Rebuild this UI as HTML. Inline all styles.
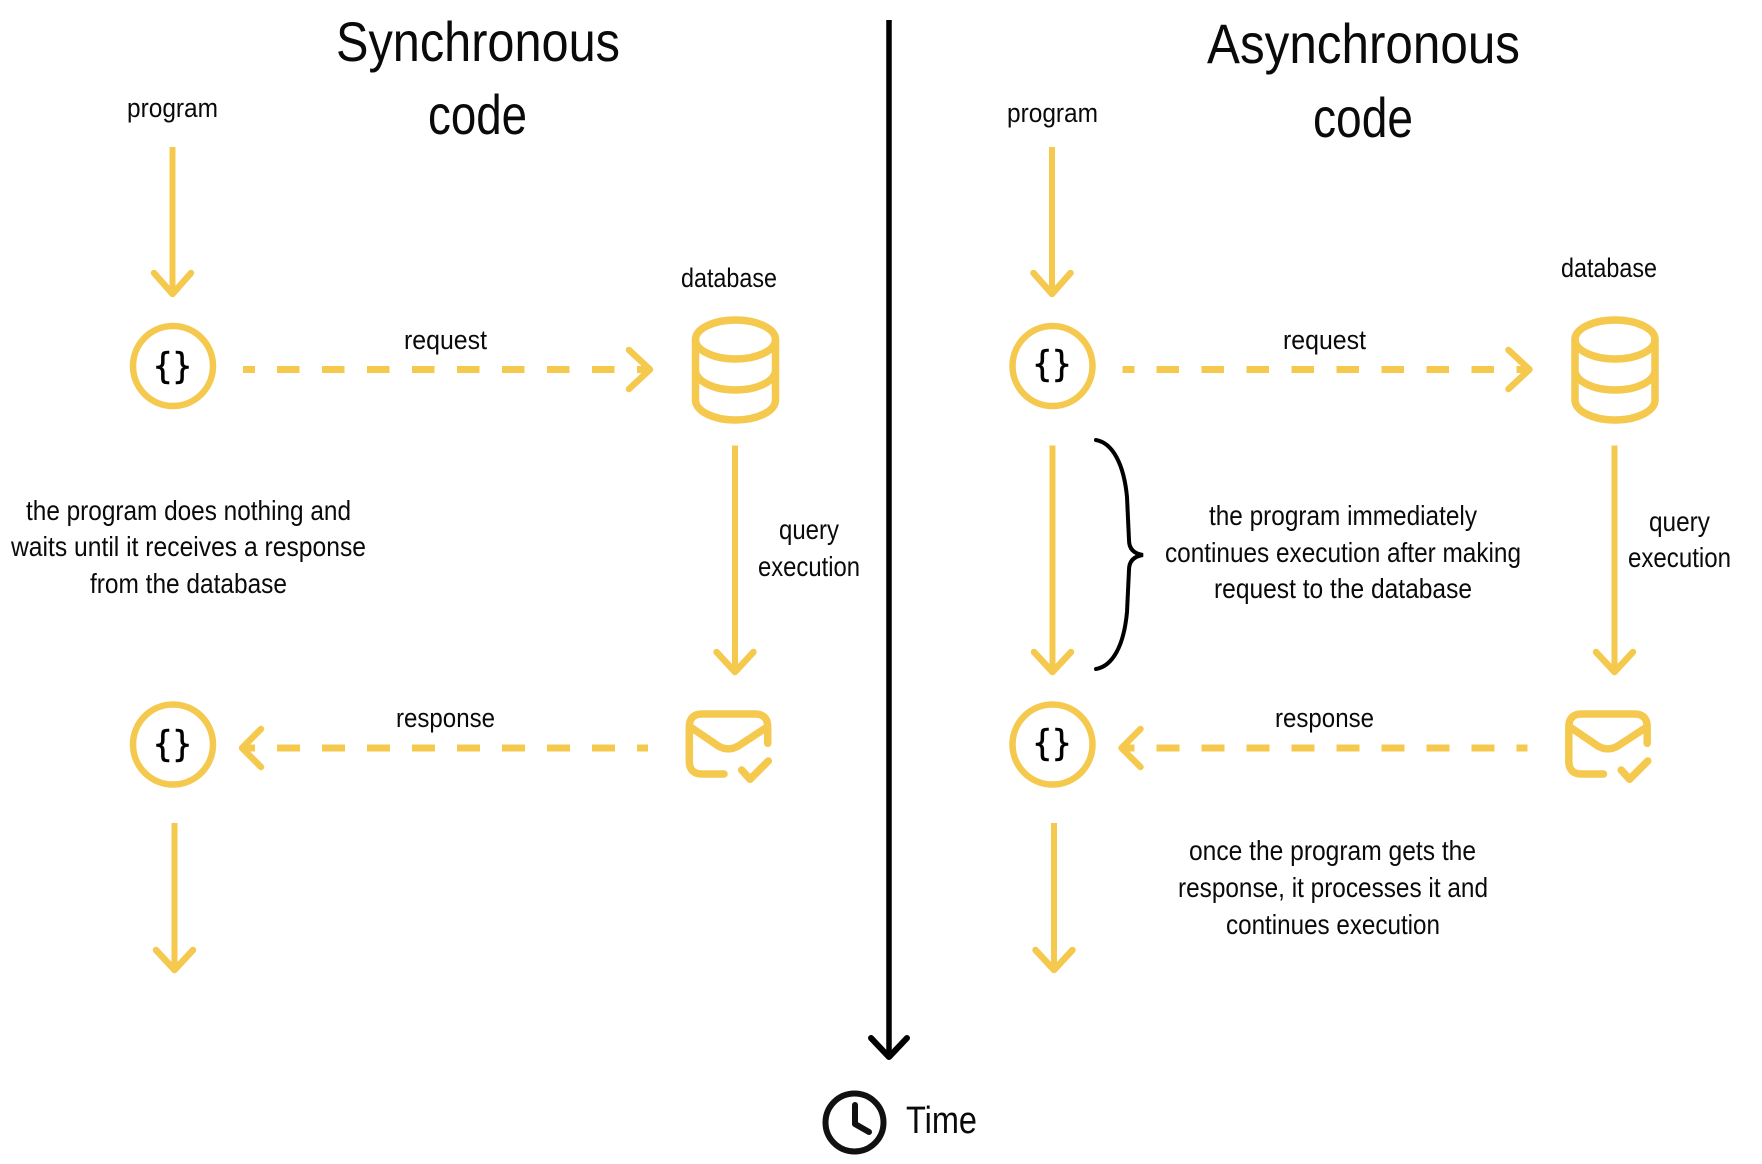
<!DOCTYPE html>
<html>
<head>
<meta charset="utf-8">
<style>
html,body{margin:0;padding:0;background:#fff;width:1762px;height:1164px;overflow:hidden}
svg{display:block}
text{font-family:"Liberation Sans",sans-serif;fill:#0a0a0a}
.t{font-size:56px}
.b{font-size:28px}
.l{font-size:27px}
.br{font-family:"DejaVu Sans Mono","Liberation Mono",monospace;font-size:36px;font-weight:400;fill:#000;stroke:#000;stroke-width:.6}
.y{fill:none;stroke:#f4c94e;stroke-width:6.5;stroke-linecap:round;stroke-linejoin:round}
.s{fill:none;stroke:#f4c94e;stroke-width:6}
.c{fill:none;stroke:#f4c94e;stroke-width:6.5}
.d{fill:none;stroke:#f4c94e;stroke-width:7;stroke-dasharray:22.5 22.5}
.i{fill:none;stroke:#f4c94e;stroke-width:7.5;stroke-linecap:round;stroke-linejoin:round}
</style>
</head>
<body>
<svg width="1762" height="1164" viewBox="0 0 1762 1164" xmlns="http://www.w3.org/2000/svg">
<rect width="1762" height="1164" fill="#fff"/>

<!-- center time arrow -->
<path d="M889 20V1056" fill="none" stroke="#000" stroke-width="5.5"/>
<path d="M871 1038L889 1057L907 1038" fill="none" stroke="#000" stroke-width="6" stroke-linecap="round" stroke-linejoin="round"/>
<circle cx="854.5" cy="1122.5" r="29" fill="none" stroke="#111" stroke-width="6"/>
<path d="M855 1105V1124L869 1132" fill="none" stroke="#111" stroke-width="6" stroke-linecap="round" stroke-linejoin="round"/>
<text class="t" x="906" y="1133" style="font-size:38px" textLength="71" lengthAdjust="spacingAndGlyphs">Time</text>

<!-- LEFT -->
<text class="t" x="336" y="61" textLength="284" lengthAdjust="spacingAndGlyphs">Synchronous</text>
<text class="t" x="428" y="134" textLength="99" lengthAdjust="spacingAndGlyphs">code</text>
<text class="l" x="127" y="117" textLength="91" lengthAdjust="spacingAndGlyphs">program</text>
<text class="l" x="681" y="287" textLength="96" lengthAdjust="spacingAndGlyphs">database</text>
<text class="l" x="404" y="349" textLength="83" lengthAdjust="spacingAndGlyphs">request</text>
<text class="l" x="396" y="727" textLength="99" lengthAdjust="spacingAndGlyphs">response</text>
<text class="b" x="779" y="539" textLength="60" lengthAdjust="spacingAndGlyphs">query</text>
<text class="b" x="758" y="576" textLength="102" lengthAdjust="spacingAndGlyphs">execution</text>
<text class="b" x="26" y="520" textLength="325" lengthAdjust="spacingAndGlyphs">the program does nothing and</text>
<text class="b" x="11" y="556" textLength="355" lengthAdjust="spacingAndGlyphs">waits until it receives a response</text>
<text class="b" x="90" y="593" textLength="197" lengthAdjust="spacingAndGlyphs">from the database</text>

<g>
<path class="s" d="M172.5 147V292"/>
<path class="y" d="M154 273L172.5 294L191 273"/>
<circle cx="173" cy="366" r="40" class="c"/>
<circle cx="173" cy="744.5" r="40" class="c"/>
<path class="d" d="M243 369.5H255M277 369.5H650"/>
<path class="y" d="M629 350L650 369.5L629 389"/>
<path class="d" d="M277 748H300M322 748H345M367 748H390M412 748H435M457 748H480M502 748H525M547 748H570M592 748H615M637 748H648M243 748H255" style="stroke-dasharray:none"/>
<path class="y" d="M261 729L242 748L261 767"/>
<path class="s" d="M735 445.5V670"/>
<path class="y" d="M716.5 652L735 672L753.5 652"/>
<path class="s" d="M174.5 823V968"/>
<path class="y" d="M156 950L174.5 970L193 950"/>
<ellipse cx="735.5" cy="339.5" rx="40" ry="19.5" class="i"/>
<path class="i" d="M695.5 370A40 20 0 0 0 775.5 370M695.5 339.5V400A40 20 0 0 0 775.5 400V339.5"/>
<path class="i" d="M724 774H702Q689.3 774 689.3 761V727Q689.3 714 702 714H755Q767.7 714 767.7 727V743.3M690 726.7L718.3 746Q728.3 751.7 738.3 746L767.7 726.7M741.7 770L750 779.3L768.3 761"/>
</g>
<text class="br" x="153" y="378" textLength="39" lengthAdjust="spacingAndGlyphs">{}</text>
<text class="br" x="153" y="756" textLength="39" lengthAdjust="spacingAndGlyphs">{}</text>

<!-- RIGHT -->
<text class="t" x="1207" y="63" textLength="313" lengthAdjust="spacingAndGlyphs">Asynchronous</text>
<text class="t" x="1313" y="137" textLength="100" lengthAdjust="spacingAndGlyphs">code</text>
<text class="l" x="1007" y="122" textLength="91" lengthAdjust="spacingAndGlyphs">program</text>
<text class="l" x="1561" y="277" textLength="96" lengthAdjust="spacingAndGlyphs">database</text>
<text class="l" x="1283" y="349" textLength="83" lengthAdjust="spacingAndGlyphs">request</text>
<text class="l" x="1275" y="727" textLength="99" lengthAdjust="spacingAndGlyphs">response</text>
<text class="b" x="1649" y="531" textLength="61" lengthAdjust="spacingAndGlyphs">query</text>
<text class="b" x="1628" y="567" textLength="103" lengthAdjust="spacingAndGlyphs">execution</text>
<text class="b" x="1209" y="525" textLength="268" lengthAdjust="spacingAndGlyphs">the program immediately</text>
<text class="b" x="1165" y="562" textLength="356" lengthAdjust="spacingAndGlyphs">continues execution after making</text>
<text class="b" x="1214" y="598" textLength="258" lengthAdjust="spacingAndGlyphs">request to the database</text>
<text class="b" x="1189" y="860" textLength="287" lengthAdjust="spacingAndGlyphs">once the program gets the</text>
<text class="b" x="1178" y="897" textLength="310" lengthAdjust="spacingAndGlyphs">response, it processes it and</text>
<text class="b" x="1226" y="934" textLength="214" lengthAdjust="spacingAndGlyphs">continues execution</text>

<g transform="translate(879.5 0)">
<path class="s" d="M172.5 147V292"/>
<path class="y" d="M154 273L172.5 294L191 273"/>
<circle cx="173" cy="366" r="40" class="c"/>
<circle cx="173" cy="744.5" r="40" class="c"/>
<path class="d" d="M243 369.5H255M277 369.5H650"/>
<path class="y" d="M629 350L650 369.5L629 389"/>
<path class="d" d="M277 748H300M322 748H345M367 748H390M412 748H435M457 748H480M502 748H525M547 748H570M592 748H615M637 748H648M243 748H255" style="stroke-dasharray:none"/>
<path class="y" d="M261 729L242 748L261 767"/>
<path class="s" d="M735 445.5V670"/>
<path class="y" d="M716.5 652L735 672L753.5 652"/>
<path class="s" d="M173 445.5V670"/>
<path class="y" d="M154.5 652L173 672L191.5 652"/>
<path class="s" d="M174.5 823V968"/>
<path class="y" d="M156 950L174.5 970L193 950"/>
<ellipse cx="735.5" cy="339.5" rx="40" ry="19.5" class="i"/>
<path class="i" d="M695.5 370A40 20 0 0 0 775.5 370M695.5 339.5V400A40 20 0 0 0 775.5 400V339.5"/>
<path class="i" d="M724 774H702Q689.3 774 689.3 761V727Q689.3 714 702 714H755Q767.7 714 767.7 727V743.3M690 726.7L718.3 746Q728.3 751.7 738.3 746L767.7 726.7M741.7 770L750 779.3L768.3 761"/>
</g>
<text class="br" x="1032.5" y="376" textLength="39" lengthAdjust="spacingAndGlyphs">{}</text>
<text class="br" x="1032.5" y="755" textLength="39" lengthAdjust="spacingAndGlyphs">{}</text>

<!-- curly bracket -->
<path d="M1096 440C1113 443 1124 465 1127 497L1129 540Q1129 553 1143 555Q1129 557 1129 570L1127 612C1124 645 1113 666 1096 669" fill="none" stroke="#000" stroke-width="4" stroke-linecap="round"/>
</svg>
</body>
</html>
